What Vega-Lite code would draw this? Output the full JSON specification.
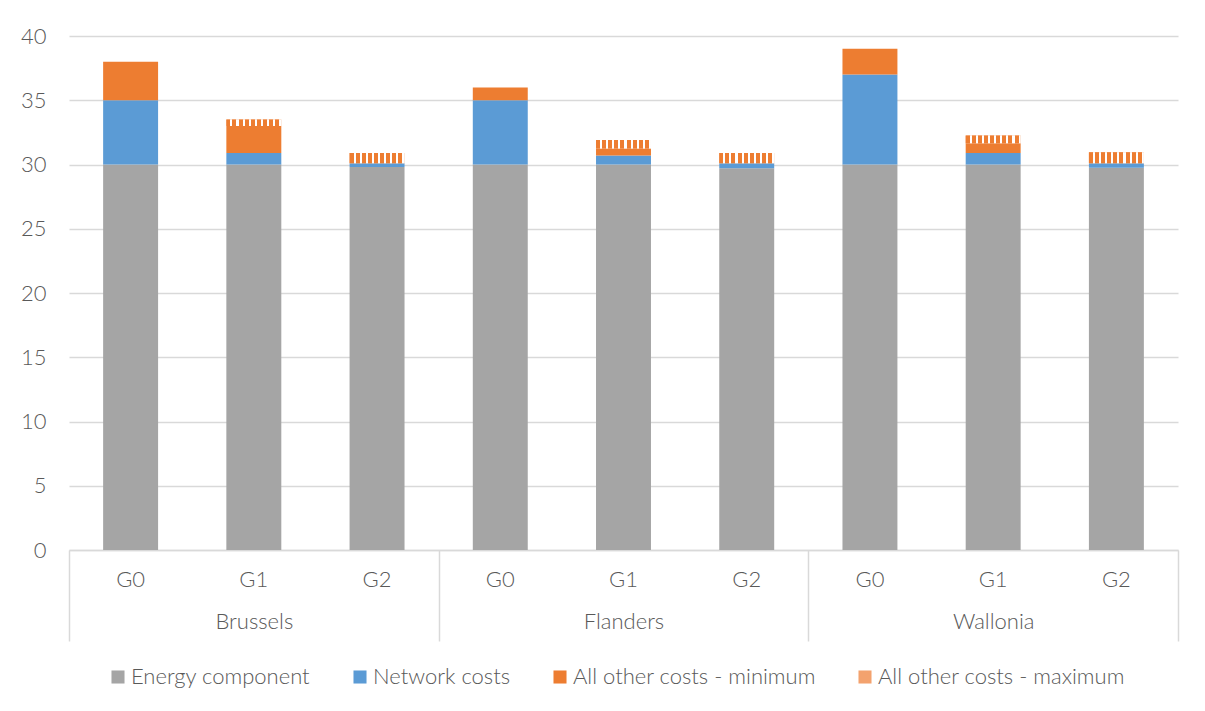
{
  "$schema": "https://vega.github.io/schema/vega-lite/v6.json",
  "width": 1109,
  "height": 514,
  "autosize": {"type": "none"},
  "padding": {"left": 69, "top": 36, "right": 27, "bottom": 161},
  "background": "white",
  "data": {
    "values": [
      {"region": "Brussels", "group": "G0", "key": "Brussels|G0", "component": "Energy component", "order": 1, "value": 30},
      {"region": "Brussels", "group": "G0", "key": "Brussels|G0", "component": "Network costs", "order": 2, "value": 5},
      {"region": "Brussels", "group": "G0", "key": "Brussels|G0", "component": "All other costs - minimum", "order": 3, "value": 3},
      {"region": "Brussels", "group": "G0", "key": "Brussels|G0", "component": "All other costs - maximum", "order": 4, "value": 0},
      {"region": "Brussels", "group": "G1", "key": "Brussels|G1", "component": "Energy component", "order": 1, "value": 30},
      {"region": "Brussels", "group": "G1", "key": "Brussels|G1", "component": "Network costs", "order": 2, "value": 0.9},
      {"region": "Brussels", "group": "G1", "key": "Brussels|G1", "component": "All other costs - minimum", "order": 3, "value": 2.1},
      {"region": "Brussels", "group": "G1", "key": "Brussels|G1", "component": "All other costs - maximum", "order": 4, "value": 0.5},
      {"region": "Brussels", "group": "G2", "key": "Brussels|G2", "component": "Energy component", "order": 1, "value": 29.8},
      {"region": "Brussels", "group": "G2", "key": "Brussels|G2", "component": "Network costs", "order": 2, "value": 0.3},
      {"region": "Brussels", "group": "G2", "key": "Brussels|G2", "component": "All other costs - minimum", "order": 3, "value": 0},
      {"region": "Brussels", "group": "G2", "key": "Brussels|G2", "component": "All other costs - maximum", "order": 4, "value": 0.8},
      {"region": "Flanders", "group": "G0", "key": "Flanders|G0", "component": "Energy component", "order": 1, "value": 30},
      {"region": "Flanders", "group": "G0", "key": "Flanders|G0", "component": "Network costs", "order": 2, "value": 5},
      {"region": "Flanders", "group": "G0", "key": "Flanders|G0", "component": "All other costs - minimum", "order": 3, "value": 1},
      {"region": "Flanders", "group": "G0", "key": "Flanders|G0", "component": "All other costs - maximum", "order": 4, "value": 0},
      {"region": "Flanders", "group": "G1", "key": "Flanders|G1", "component": "Energy component", "order": 1, "value": 30},
      {"region": "Flanders", "group": "G1", "key": "Flanders|G1", "component": "Network costs", "order": 2, "value": 0.7},
      {"region": "Flanders", "group": "G1", "key": "Flanders|G1", "component": "All other costs - minimum", "order": 3, "value": 0.55},
      {"region": "Flanders", "group": "G1", "key": "Flanders|G1", "component": "All other costs - maximum", "order": 4, "value": 0.65},
      {"region": "Flanders", "group": "G2", "key": "Flanders|G2", "component": "Energy component", "order": 1, "value": 29.7},
      {"region": "Flanders", "group": "G2", "key": "Flanders|G2", "component": "Network costs", "order": 2, "value": 0.4},
      {"region": "Flanders", "group": "G2", "key": "Flanders|G2", "component": "All other costs - minimum", "order": 3, "value": 0},
      {"region": "Flanders", "group": "G2", "key": "Flanders|G2", "component": "All other costs - maximum", "order": 4, "value": 0.8},
      {"region": "Wallonia", "group": "G0", "key": "Wallonia|G0", "component": "Energy component", "order": 1, "value": 30},
      {"region": "Wallonia", "group": "G0", "key": "Wallonia|G0", "component": "Network costs", "order": 2, "value": 7},
      {"region": "Wallonia", "group": "G0", "key": "Wallonia|G0", "component": "All other costs - minimum", "order": 3, "value": 2},
      {"region": "Wallonia", "group": "G0", "key": "Wallonia|G0", "component": "All other costs - maximum", "order": 4, "value": 0},
      {"region": "Wallonia", "group": "G1", "key": "Wallonia|G1", "component": "Energy component", "order": 1, "value": 30},
      {"region": "Wallonia", "group": "G1", "key": "Wallonia|G1", "component": "Network costs", "order": 2, "value": 0.9},
      {"region": "Wallonia", "group": "G1", "key": "Wallonia|G1", "component": "All other costs - minimum", "order": 3, "value": 0.75},
      {"region": "Wallonia", "group": "G1", "key": "Wallonia|G1", "component": "All other costs - maximum", "order": 4, "value": 0.6},
      {"region": "Wallonia", "group": "G2", "key": "Wallonia|G2", "component": "Energy component", "order": 1, "value": 29.75},
      {"region": "Wallonia", "group": "G2", "key": "Wallonia|G2", "component": "Network costs", "order": 2, "value": 0.35},
      {"region": "Wallonia", "group": "G2", "key": "Wallonia|G2", "component": "All other costs - minimum", "order": 3, "value": 0},
      {"region": "Wallonia", "group": "G2", "key": "Wallonia|G2", "component": "All other costs - maximum", "order": 4, "value": 0.85}
    ]
  },
  "layer": [
    {
      "encoding": {
        "x": {
          "field": "key",
          "type": "nominal",
          "sort": ["Brussels|G0", "Brussels|G1", "Brussels|G2", "Flanders|G0", "Flanders|G1", "Flanders|G2", "Wallonia|G0", "Wallonia|G1", "Wallonia|G2"],
          "scale": {"paddingInner": 0.554, "paddingOuter": 0.277},
          "axis": {
            "orient": "bottom",
            "title": null,
            "labelExpr": "split(datum.label, '|')[1]",
            "labelAngle": 0,
            "ticks": false,
            "tickSize": 0,
            "labelPadding": 19,
            "domain": true,
            "domainColor": "#D9D9D9",
            "domainWidth": 1.5,
            "grid": false
          }
        },
        "y": {
          "field": "value",
          "type": "quantitative",
          "stack": "zero",
          "scale": {"domain": [0, 40]},
          "axis": {
            "title": null,
            "values": [0, 5, 10, 15, 20, 25, 30, 35, 40],
            "domain": false,
            "ticks": false,
            "tickSize": 0,
            "labelPadding": 23,
            "grid": true,
            "gridColor": "#D9D9D9",
            "gridWidth": 1.5
          }
        },
        "order": {"field": "order", "type": "quantitative"}
      },
      "layer": [
        {
          "mark": {"type": "bar"},
          "encoding": {
            "color": {
              "field": "component",
              "type": "nominal",
              "sort": ["Energy component", "Network costs", "All other costs - minimum", "All other costs - maximum"],
              "scale": {
                "domain": ["Energy component", "Network costs", "All other costs - minimum", "All other costs - maximum"],
                "range": ["#A5A5A5", "#5B9BD5", "#ED7D31", "#F3A26E"]
              },
              "legend": {
                "orient": "none",
                "legendX": 38,
                "legendY": 630,
                "direction": "horizontal",
                "title": null,
                "symbolType": "square",
                "symbolSize": 170,
                "symbolStrokeWidth": 0,
                "symbolOpacity": 1,
                "columnPadding": 38,
                "labelOffset": 2,
                "labelLimit": 400
              }
            }
          }
        },
        {
          "mark": {"type": "bar"},
          "encoding": {
            "fill": {
              "condition": {
                "test": "datum.component == 'All other costs - maximum'",
                "value": {
                  "gradient": "linear",
                  "x1": 0, "y1": 0, "x2": 1, "y2": 0,
                  "stops": [
                    {"offset": 0, "color": "#ED7D31"}, {"offset": 0.072, "color": "#ED7D31"}, {"offset": 0.072, "color": "#FFFFFF"}, {"offset": 0.111, "color": "#FFFFFF"},
                    {"offset": 0.111, "color": "#ED7D31"}, {"offset": 0.183, "color": "#ED7D31"}, {"offset": 0.183, "color": "#FFFFFF"}, {"offset": 0.222, "color": "#FFFFFF"},
                    {"offset": 0.222, "color": "#ED7D31"}, {"offset": 0.294, "color": "#ED7D31"}, {"offset": 0.294, "color": "#FFFFFF"}, {"offset": 0.333, "color": "#FFFFFF"},
                    {"offset": 0.333, "color": "#ED7D31"}, {"offset": 0.405, "color": "#ED7D31"}, {"offset": 0.405, "color": "#FFFFFF"}, {"offset": 0.444, "color": "#FFFFFF"},
                    {"offset": 0.444, "color": "#ED7D31"}, {"offset": 0.516, "color": "#ED7D31"}, {"offset": 0.516, "color": "#FFFFFF"}, {"offset": 0.556, "color": "#FFFFFF"},
                    {"offset": 0.556, "color": "#ED7D31"}, {"offset": 0.628, "color": "#ED7D31"}, {"offset": 0.628, "color": "#FFFFFF"}, {"offset": 0.667, "color": "#FFFFFF"},
                    {"offset": 0.667, "color": "#ED7D31"}, {"offset": 0.739, "color": "#ED7D31"}, {"offset": 0.739, "color": "#FFFFFF"}, {"offset": 0.778, "color": "#FFFFFF"},
                    {"offset": 0.778, "color": "#ED7D31"}, {"offset": 0.850, "color": "#ED7D31"}, {"offset": 0.850, "color": "#FFFFFF"}, {"offset": 0.889, "color": "#FFFFFF"},
                    {"offset": 0.889, "color": "#ED7D31"}, {"offset": 0.961, "color": "#ED7D31"}, {"offset": 0.961, "color": "#FFFFFF"}, {"offset": 1, "color": "#FFFFFF"}
                  ]
                }
              },
              "value": "transparent"
            }
          }
        }
      ]
    },
    {
      "mark": {"type": "rule", "opacity": 0},
      "encoding": {
        "x": {
          "field": "region",
          "type": "nominal",
          "sort": ["Brussels", "Flanders", "Wallonia"],
          "scale": {"type": "band", "paddingInner": 0, "paddingOuter": 0},
          "axis": {
            "orient": "bottom",
            "title": null,
            "labelAngle": 0,
            "domain": false,
            "grid": false,
            "ticks": true,
            "tickBand": "extent",
            "tickSize": 91,
            "tickColor": "#D9D9D9",
            "tickWidth": 1.5,
            "labelPadding": -30
          }
        }
      }
    }
  ],
  "resolve": {"scale": {"x": "independent"}, "axis": {"x": "independent"}},
  "config": {
    "font": "Lato",
    "view": {"stroke": null},
    "axis": {"labelFont": "Lato", "labelFontSize": 22, "labelFontWeight": 300, "labelColor": "#595959"},
    "legend": {"labelFont": "Lato", "labelFontSize": 22, "labelFontWeight": 300, "labelColor": "#595959"}
  }
}
